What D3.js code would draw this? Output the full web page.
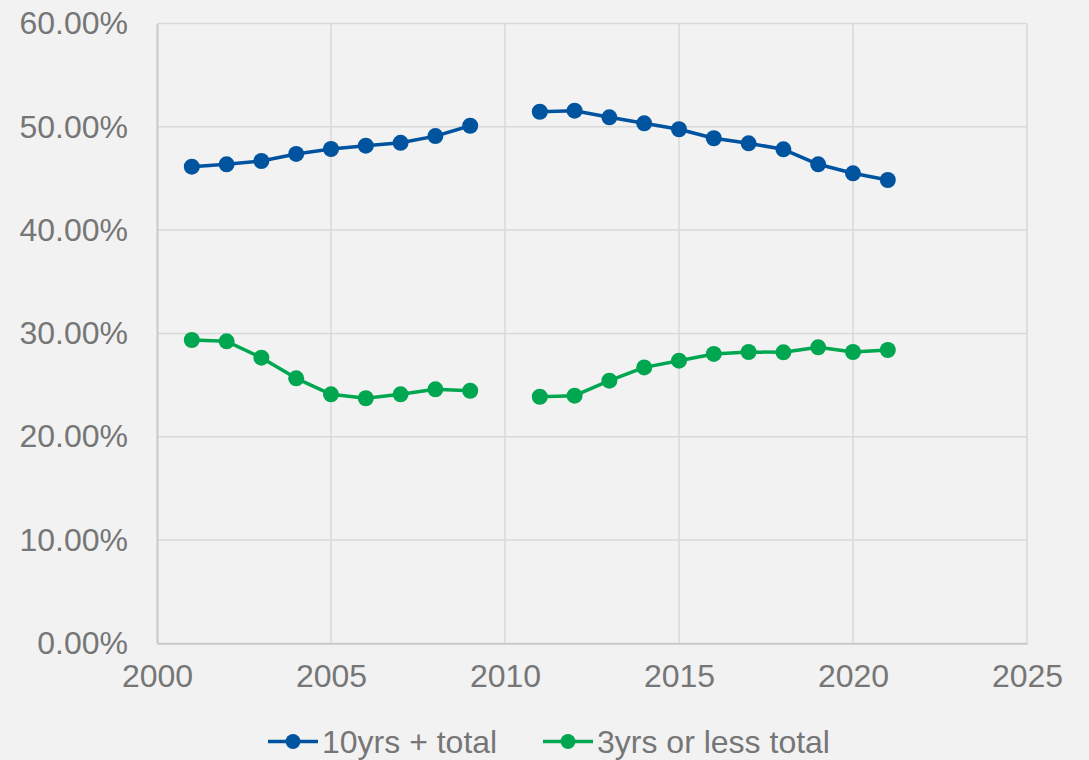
<!DOCTYPE html>
<html><head><meta charset="utf-8">
<script src="https://cdn.jsdelivr.net/npm/d3@7"></script>
<style>html,body{margin:0;padding:0;background:#f2f2f2;}svg{display:block;}</style>
</head><body>
<svg id="c" width="1089" height="760"></svg>
<script>
const years = [2001,2002,2003,2004,2005,2006,2007,2008,2009,2010,2011,2012,2013,2014,2015,2016,2017,2018,2019,2020,2021];
const tenYrsPlus = [46.14,46.37,46.69,47.37,47.85,48.17,48.45,49.1,50.1,null,51.46,51.56,50.92,50.34,49.76,48.89,48.40,47.82,46.37,45.50,44.85];
const threeYrsLess = [29.36,29.23,27.65,25.65,24.10,23.72,24.10,24.59,24.45,null,23.87,23.97,25.42,26.71,27.36,28.01,28.20,28.17,28.65,28.20,28.39];
const seriesNames = ["10yrs + total","3yrs or less total"];
const seriesColors = ["#00539f","#00a650"];
const xTicks = [2000,2005,2010,2015,2020,2025];
const yTicks = [0,10,20,30,40,50,60];

const svg = d3.select("#c");
const L=157, R=1027, T=23.5, B=643.3;
const x = d3.scaleLinear().domain([2000,2025]).range([L,R]);
const y = d3.scaleLinear().domain([0,60]).range([B,T]);
const font = "'Liberation Sans', Arial, sans-serif";
const txt = "#767676";
const fs = 32;

// grid
const g = svg.append("g");
g.selectAll(".hg").data(yTicks.filter(d=>d>0)).join("line")
  .attr("x1",L).attr("x2",R).attr("y1",d=>y(d)).attr("y2",d=>y(d))
  .attr("stroke","#d9d9d9").attr("stroke-width",1.5);
g.selectAll(".vg").data(xTicks.filter(d=>d>2000)).join("line")
  .attr("x1",d=>x(d)).attr("x2",d=>x(d)).attr("y1",T).attr("y2",B)
  .attr("stroke","#d9d9d9").attr("stroke-width",1.5);

// axes
const yAxis = svg.append("g").attr("transform",`translate(${L},0)`)
  .call(d3.axisLeft(y).tickValues(yTicks).tickFormat(d=>d.toFixed(2)+"%").tickSize(0).tickPadding(29));
yAxis.select(".domain").attr("stroke","#c8c8c8").attr("stroke-width",2);
yAxis.selectAll("text").attr("font-family",font).attr("font-size",fs).attr("fill",txt);

const xAxis = svg.append("g").attr("transform",`translate(0,${B})`)
  .call(d3.axisBottom(x).tickValues(xTicks).tickFormat(d3.format("d")).tickSize(0).tickPadding(21));
xAxis.select(".domain").attr("stroke","#c8c8c8").attr("stroke-width",2);
xAxis.selectAll("text").attr("font-family",font).attr("font-size",fs).attr("fill",txt);

// series
const allSeries = [tenYrsPlus, threeYrsLess];
allSeries.forEach((vals,i)=>{
  const pts = years.map((yr,j)=>({yr, v:vals[j]}));
  const line = d3.line().defined(d=>d.v!==null).x(d=>x(d.yr)).y(d=>y(d.v));
  svg.append("path").datum(pts).attr("d",line).attr("fill","none")
    .attr("stroke",seriesColors[i]).attr("stroke-width",3.5).attr("stroke-linejoin","round");
  svg.append("g").selectAll("circle").data(pts.filter(d=>d.v!==null)).join("circle")
    .attr("cx",d=>x(d.yr)).attr("cy",d=>y(d.v)).attr("r",8).attr("fill",seriesColors[i]);
});

// legend
const leg = svg.append("g");
const legX = [268, 543];
seriesNames.forEach((n,i)=>{
  const lx = legX[i], ly = 741.5;
  leg.append("line").attr("x1",lx).attr("x2",lx+50).attr("y1",ly).attr("y2",ly)
    .attr("stroke",seriesColors[i]).attr("stroke-width",3.5);
  leg.append("circle").attr("cx",lx+25).attr("cy",ly).attr("r",7.5).attr("fill",seriesColors[i]);
  leg.append("text").attr("x",lx+54).attr("y",ly+11.5).text(n)
    .attr("font-family",font).attr("font-size",fs).attr("fill",txt);
});
</script>
</body></html>
